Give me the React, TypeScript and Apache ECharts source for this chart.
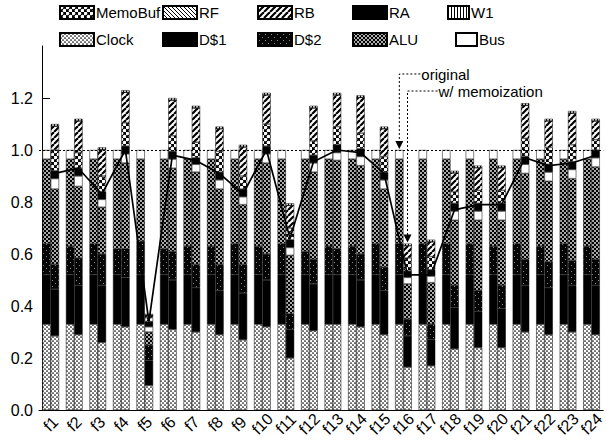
import React, { useEffect, useRef } from "react";
import * as echarts from "echarts";

const categories = ["f1","f2","f3","f4","f5","f6","f7","f8","f9","f10","f11","f12","f13","f14","f15","f16","f17","f18","f19","f20","f21","f22","f23","f24"];

// original bars (normalised to 1.0)
const origClock = [0.33,0.33,0.33,0.33,0.33,0.33,0.33,0.33,0.33,0.33,0.33,0.33,0.33,0.33,0.33,0.33,0.33,0.33,0.33,0.33,0.33,0.33,0.33,0.33];
const origD1 = [0.19,0.19,0.19,0.19,0.19,0.19,0.19,0.19,0.19,0.19,0.19,0.19,0.19,0.19,0.19,0.19,0.19,0.19,0.19,0.19,0.19,0.19,0.19,0.19];
const origD2 = [0.12,0.11,0.12,0.10,0.13,0.10,0.11,0.11,0.12,0.11,0.12,0.09,0.11,0.11,0.12,0.12,0.12,0.12,0.12,0.11,0.12,0.11,0.12,0.11];
const origALU = [0.325,0.335,0.325,0.345,0.315,0.345,0.335,0.335,0.325,0.335,0.325,0.355,0.335,0.335,0.325,0.325,0.325,0.325,0.325,0.335,0.325,0.335,0.325,0.335];
const origBus = [0.035,0.035,0.035,0.035,0.035,0.035,0.035,0.035,0.035,0.035,0.035,0.035,0.035,0.035,0.035,0.035,0.035,0.035,0.035,0.035,0.035,0.035,0.035,0.035];

// bars with memoization
const memoClock = [0.285,0.29,0.26,0.32,0.095,0.31,0.30,0.29,0.27,0.32,0.20,0.305,0.33,0.32,0.29,0.165,0.17,0.235,0.24,0.24,0.30,0.29,0.30,0.29];
const memoD1 = [0.18,0.19,0.22,0.19,0.095,0.19,0.17,0.17,0.18,0.18,0.11,0.18,0.19,0.18,0.17,0.12,0.10,0.16,0.14,0.15,0.18,0.18,0.18,0.19];
const memoD2 = [0.095,0.105,0.12,0.11,0.06,0.11,0.09,0.10,0.11,0.10,0.06,0.095,0.10,0.10,0.09,0.065,0.06,0.085,0.08,0.09,0.10,0.10,0.095,0.10];
const memoALU = [0.29,0.275,0.18,0.33,0.05,0.32,0.355,0.29,0.23,0.35,0.225,0.335,0.34,0.34,0.30,0.135,0.16,0.25,0.27,0.25,0.33,0.31,0.315,0.355];
const memoBus = [0.04,0.04,0.03,0.035,0.02,0.035,0.03,0.035,0.03,0.035,0.03,0.035,0.03,0.035,0.035,0.025,0.025,0.035,0.035,0.035,0.035,0.035,0.035,0.035];
const memoRA = [0.03,0.03,0.03,0.03,0.02,0.03,0.025,0.03,0.03,0.03,0.03,0.03,0.03,0.03,0.03,0.025,0.025,0.03,0.03,0.03,0.03,0.03,0.03,0.03];
const memoMemoBuf = [0.08,0.06,0.06,0.09,0.015,0.06,0.06,0.08,0.05,0.085,0.045,0.055,0.07,0.06,0.06,0.05,0.05,0.045,0.05,0.05,0.07,0.065,0.065,0.04];
const memoRB = [0.092,0.122,0.102,0.117,0.01,0.137,0.132,0.087,0.112,0.112,0.087,0.127,0.122,0.137,0.107,0.047,0.057,0.072,0.087,0.087,0.127,0.102,0.122,0.072];
const memoRF = [0,0,0,0,0,0,0,0,0,0,0,0,0,0,0,0,0,0,0,0,0,0,0,0];
const memoW1 = [0.008,0.008,0.008,0.008,0.005,0.008,0.008,0.008,0.008,0.008,0.008,0.008,0.008,0.008,0.008,0.008,0.008,0.008,0.008,0.008,0.008,0.008,0.008,0.008];

// line through the memoization bars
const lineValues = [0.91,0.93,0.83,1.0,0.34,0.98,0.96,0.91,0.83,1.0,0.66,0.955,1.0,0.99,0.91,0.52,0.52,0.77,0.79,0.79,0.97,0.94,0.95,0.98];

const yTicks = [0, 0.2, 0.4, 0.6, 0.8, 1.0, 1.2];
const legendRow1 = ["MemoBuf", "RF", "RB", "RA", "W1"];
const legendRow2 = ["Clock", "D$1", "D$2", "ALU", "Bus"];
const annotOriginal = "original";
const annotMemo = "w/ memoization";
const annotCategory = "f16";

const FONT = "Liberation Sans";
const GRID_LEFT = 39;
const GRID_TOP = 46;
const GRID_W = 571.7;
const GRID_BOTTOM = 31;
const BAR_W = 8.3;

type Draw = (ctx: CanvasRenderingContext2D, s: number) => void;
function makePattern(size: number, draw: Draw) {
  const c = document.createElement("canvas");
  c.width = size;
  c.height = size;
  const ctx = c.getContext("2d")!;
  draw(ctx, size);
  return { image: c, repeat: "repeat", imageWidth: size, imageHeight: size } as any;
}
const dots = (bg: string, fg: string, r: number): Draw => (ctx, s) => {
  ctx.fillStyle = bg;
  ctx.fillRect(0, 0, s, s);
  ctx.fillStyle = fg;
  const pts = [[s / 4, s / 4], [(3 * s) / 4, (3 * s) / 4]];
  for (const [x, y] of pts) {
    ctx.beginPath();
    ctx.arc(x, y, r, 0, Math.PI * 2);
    ctx.fill();
  }
};
const hatch = (dir: number, w: number): Draw => (ctx, s) => {
  ctx.fillStyle = "#fff";
  ctx.fillRect(0, 0, s, s);
  ctx.strokeStyle = "#000";
  ctx.lineWidth = w;
  for (const k of [-s, 0, s]) {
    ctx.beginPath();
    if (dir > 0) {
      ctx.moveTo(k, s);
      ctx.lineTo(k + s, 0);
    } else {
      ctx.moveTo(k, 0);
      ctx.lineTo(k + s, s);
    }
    ctx.stroke();
  }
};

export default function App() {
  const ref = useRef<HTMLDivElement>(null);
  useEffect(() => {
    document.body.style.margin = "0";
    const chart = echarts.init(ref.current!, null, { renderer: "svg" });

    const fills: Record<string, any> = {
      Clock: makePattern(4, dots("#fff", "#000", 0.85)),
      "D$1": "#000",
      "D$2": makePattern(6, (ctx, s) => {
        ctx.fillStyle = "#050505";
        ctx.fillRect(0, 0, s, s);
        ctx.fillStyle = "#888";
        ctx.fillRect(1, 1, 1, 1);
        ctx.fillRect(4, 4, 1, 1);
      }),
      ALU: makePattern(4, dots("#000", "#fff", 0.9)),
      Bus: "#fff",
      RA: "#000",
      MemoBuf: makePattern(6, dots("#000", "#fff", 1.8)),
      RB: makePattern(6, hatch(1, 2.2)),
      RF: makePattern(4, hatch(-1, 1)),
      W1: makePattern(3, (ctx, s) => {
        ctx.fillStyle = "#fff";
        ctx.fillRect(0, 0, s, s);
        ctx.fillStyle = "#000";
        ctx.fillRect(0, 0, 1, s);
      }),
    };

    const origLayers: [string, number[]][] = [
      ["Clock", origClock], ["D$1", origD1], ["D$2", origD2], ["ALU", origALU], ["Bus", origBus],
    ];
    const memoLayers: [string, number[]][] = [
      ["Clock", memoClock], ["D$1", memoD1], ["D$2", memoD2], ["ALU", memoALU], ["Bus", memoBus],
      ["RA", memoRA], ["MemoBuf", memoMemoBuf], ["RB", memoRB], ["RF", memoRF], ["W1", memoW1],
    ];

    const barSeries = (stack: string, layers: [string, number[]][]) =>
      layers.map(([name, data], idx) => ({
        type: "bar",
        name,
        stack,
        data,
        xAxisIndex: 0,
        yAxisIndex: 0,
        barWidth: BAR_W,
        barGap: "0%",
        itemStyle: { color: fills[name], borderColor: "#000", borderWidth: 0.5 },
        emphasis: { disabled: true },
        ...(stack === "orig" && idx === 0
          ? {
              markLine: {
                silent: true,
                symbol: ["none", "none"],
                label: { show: false },
                lineStyle: { type: [2, 2], color: "#000", width: 1 },
                data: [{ yAxis: 1.0 }],
              },
            }
          : {}),
      }));

    const bandPx = GRID_W / categories.length;
    const off = BAR_W / 2 / bandPx;
    const series: any[] = [...barSeries("orig", origLayers), ...barSeries("memo", memoLayers)];
    const lineIndex = series.length;
    series.push({
      type: "line",
      name: "line",
      xAxisIndex: 1,
      yAxisIndex: 0,
      data: lineValues.map((v, i) => [i + 0.5 + off, v]),
      symbol: "none",
      lineStyle: { color: "#000", width: 1.7 },
      z: 5,
      silent: true,
    });

    const colX1 = [59, 162, 257, 352, 447];
    const colX2 = [59, 162, 257, 352, 455];
    const legends: any[] = [];
    const mkLegend = (name: string, left: number, top: number, w: number) => ({
      data: [name],
      left,
      top,
      padding: 0,
      itemWidth: w,
      itemHeight: 13,
      icon: "rect",
      selectedMode: false,
      textStyle: { fontFamily: FONT, fontSize: 15, color: "#000", padding: [0, 0, 0, -3] },
    });
    legendRow1.forEach((n, i) => legends.push(mkLegend(n, colX1[i], 5, i === 4 ? 21 : 34)));
    legendRow2.forEach((n, i) => legends.push(mkLegend(n, colX2[i], 32, i === 4 ? 21 : 34)));

    chart.setOption({
      animation: false,
      textStyle: { fontFamily: FONT },
      legend: legends,
      grid: { left: GRID_LEFT, top: GRID_TOP, width: GRID_W, bottom: GRID_BOTTOM },
      xAxis: [
        {
          type: "category",
          data: categories,
          axisLine: { lineStyle: { color: "#000", width: 1 } },
          axisTick: { show: false },
          axisLabel: {
            rotate: 45,
            align: "center",
            verticalAlign: "middle",
            margin: 14,
            fontSize: 16,
            color: "#000",
            fontFamily: FONT,
            interval: 0,
          },
        },
        { type: "value", min: 0, max: categories.length, show: false },
      ],
      yAxis: {
        type: "value",
        min: 0,
        max: 1.4,
        interval: 0.2,
        offset: -3,
        axisLine: { show: true, lineStyle: { color: "#000", width: 1 } },
        axisTick: { show: true, inside: true, length: 8, lineStyle: { color: "#000" }, customValues: yTicks },
        axisLabel: {
          customValues: yTicks,
          formatter: (v: number) => v.toFixed(1),
          fontSize: 16,
          color: "#000",
          fontFamily: FONT,
          margin: 9,
        },
        splitLine: { show: false },
      },
      series,
    });

    // annotation arrows pointing at the f16 bars
    const ci = categories.indexOf(annotCategory);
    const memoTotal = memoLayers.reduce((s, [, d]) => s + d[ci], 0);
    const origTotal = origLayers.reduce((s, [, d]) => s + d[ci], 0);
    const pO = chart.convertToPixel({ seriesIndex: lineIndex }, [ci + 0.5 - off, origTotal]) as number[];
    const pM = chart.convertToPixel({ seriesIndex: lineIndex }, [ci + 0.5 + off, memoTotal]) as number[];
    const yO = 74;
    const yM = 91;
    const dash = { stroke: "#000", lineWidth: 1, lineDash: [2, 2], fill: null };
    chart.setOption({
      graphic: [
        { type: "polyline", shape: { points: [[pO[0] + 21, yO], [pO[0], yO], [pO[0], pO[1] - 8]] }, style: dash },
        { type: "polygon", shape: { points: [[pO[0] - 4, pO[1] - 9], [pO[0] + 4, pO[1] - 9], [pO[0], pO[1] - 1]] }, style: { fill: "#000" } },
        { type: "text", x: pO[0] + 22, y: yO, style: { text: annotOriginal, fontSize: 15, fontFamily: FONT, fill: "#000", verticalAlign: "middle" } },
        { type: "polyline", shape: { points: [[pM[0] + 30, yM], [pM[0], yM], [pM[0], pM[1] - 8]] }, style: dash },
        { type: "polygon", shape: { points: [[pM[0] - 4, pM[1] - 9], [pM[0] + 4, pM[1] - 9], [pM[0], pM[1] - 1]] }, style: { fill: "#000" } },
        { type: "text", x: pM[0] + 31, y: yM, style: { text: annotMemo, fontSize: 15, fontFamily: FONT, fill: "#000", verticalAlign: "middle" } },
      ],
    });

    return () => chart.dispose();
  }, []);
  return <div ref={ref} style={{ width: 607, height: 441 }} />;
}
